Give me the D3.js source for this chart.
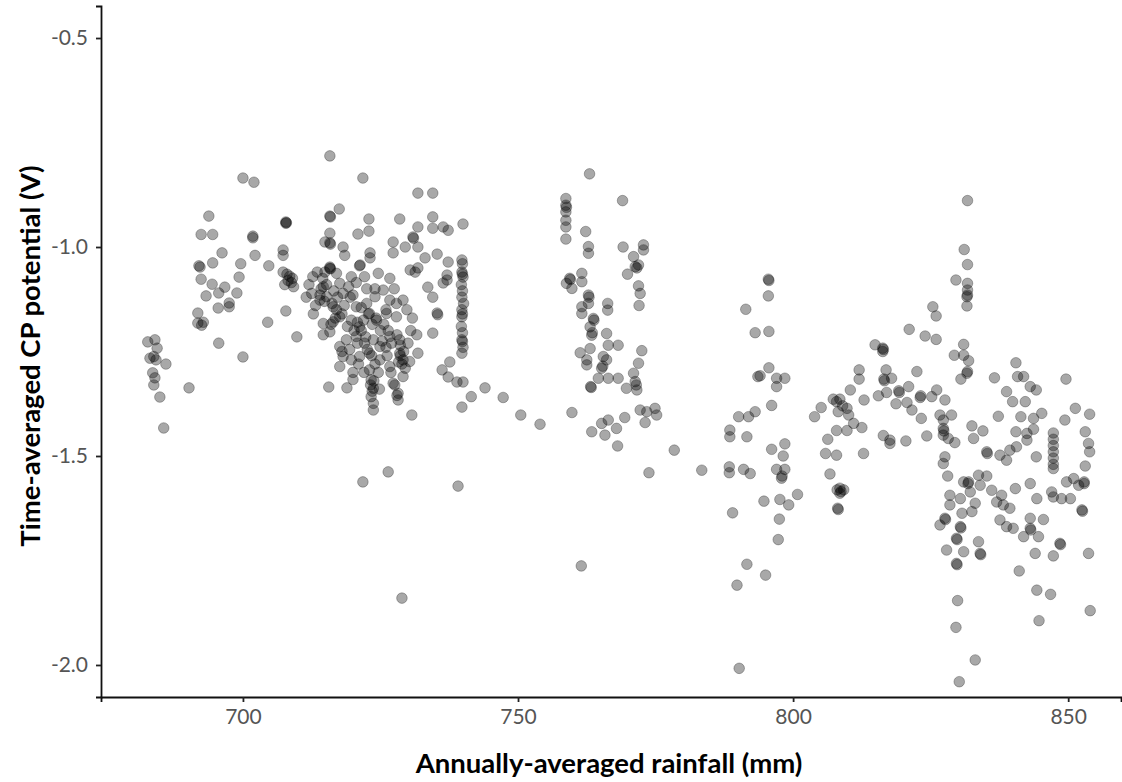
<!DOCTYPE html>
<html lang="en">
<head>
<meta charset="UTF-8">
<title>CP potential vs rainfall</title>
<script src="https://cdn.jsdelivr.net/npm/d3@7"></script>
<style>
  body { margin: 0; background: #fff; }
  text { font-family: Lato, "Open Sans", sans-serif; }
</style>
</head>
<body>
<svg id="chart"></svg>
<script>
const width = 1122, height = 782;

// [rainfall (mm), CP potential (V)], grouped by area
const west = [[682.7,-1.227],[684.0,-1.222],[684.4,-1.242],[683.1,-1.266],[684.2,-1.27],[683.8,-1.262],[686.0,-1.28],[683.6,-1.301],[684.0,-1.313],[683.8,-1.33],[684.9,-1.359],[685.6,-1.433],[690.2,-1.337],
  [700.0,-0.835],[702.0,-0.845],[693.8,-0.926],[692.4,-0.97],[694.5,-0.97],[701.8,-0.974],[701.8,-0.978],[696.2,-1.014],[702.2,-1.02],[692.0,-1.045],[692.2,-1.048],[694.5,-1.038],[699.6,-1.04],[704.7,-1.045],[692.4,-1.077],[694.4,-1.089],[696.7,-1.096],[699.3,-1.072],[695.6,-1.11],[698.9,-1.11],[693.3,-1.117],[697.5,-1.134],[697.5,-1.143],[695.5,-1.146],[691.8,-1.158],[691.8,-1.182],[692.5,-1.187],[692.8,-1.18],[704.5,-1.18],[695.6,-1.23],[700.0,-1.263],
  [707.8,-0.94],[707.9,-0.942],[707.8,-0.943],[707.3,-1.007],[707.3,-1.02],[707.3,-1.06],[708.0,-1.065],[708.5,-1.07],[709.0,-1.075],[708.2,-1.08],[707.6,-1.09],[709.2,-1.095],[708.8,-1.085],[707.8,-1.153],[709.8,-1.215]];

const central = [[715.8,-0.782],[721.8,-0.835],[731.8,-0.871],[734.5,-0.871],[717.5,-0.909],[715.8,-0.926],[715.9,-0.928],[722.9,-0.933],[728.5,-0.933],[734.5,-0.928],[736.4,-0.952],[737.3,-0.96],[734.5,-0.955],[740.0,-0.945],[731.8,-0.952],[715.8,-0.967],[720.9,-0.969],[722.9,-0.962],[730.9,-0.976],[731.0,-0.979],[715.8,-0.99],[715.9,-0.993],[714.9,-0.988],[718.2,-1.0],[718.5,-1.02],[723.1,-1.014],[723.1,-1.026],[727.3,-0.988],[727.3,-1.014],[729.5,-1.0],[731.8,-1.0],[733.1,-1.026],[735.3,-1.017],[739.8,-1.031],[739.8,-1.06],[740.0,-1.072],[739.9,-1.065],[737.3,-1.036],[737.1,-1.067],[721.3,-1.043],[730.4,-1.055],[731.3,-1.06],[731.8,-1.05],[715.8,-1.048],[715.9,-1.052],[714.9,-1.06],[733.6,-1.096],[734.5,-1.12],[735.3,-1.158],[735.4,-1.162],[739.8,-1.12],[739.8,-1.15],[739.8,-1.167],[739.9,-1.16],[737.1,-1.079],[736.4,-1.086],[731.6,-1.21],[734.5,-1.206],[739.8,-1.222],[739.9,-1.226],[739.8,-1.254],[737.6,-1.275],[736.2,-1.294],[737.3,-1.311],[738.9,-1.323],[740.0,-1.323],[739.8,-1.383],[731.8,-1.254],[730.7,-1.402],[715.6,-1.335],[718.9,-1.337],
  [739.9,-1.04],[739.7,-1.09],[739.9,-1.105],[740.1,-1.135],[739.7,-1.19],[739.9,-1.205],[740.0,-1.24],
  [712.7,-1.071],[714.6,-1.095],[715.8,-1.051],[717.0,-1.063],[717.6,-1.087],[719.7,-1.071],[721.2,-1.045],[722.1,-1.071],[724.6,-1.063],[726.7,-1.075],
  [712.5,-1.111],[714.0,-1.127],[715.2,-1.119],[716.4,-1.143],[718.2,-1.111],[720.0,-1.115],[720.6,-1.143],[722.5,-1.135],[724.0,-1.119],[725.5,-1.103],[726.7,-1.127],[727.9,-1.135],[729.1,-1.127],
  [714.6,-1.183],[716.4,-1.179],[717.6,-1.167],[719.7,-1.175],[721.2,-1.191],[723.0,-1.159],[724.3,-1.175],[726.1,-1.159],[727.9,-1.167],
  [714.6,-1.21],[715.8,-1.203],[717.6,-1.238],[718.8,-1.222],[720.6,-1.214],[722.1,-1.23],[723.7,-1.222],[724.9,-1.238],[726.7,-1.214],[728.5,-1.222],
  [717.6,-1.286],[718.2,-1.262],[719.7,-1.27],[721.2,-1.262],[723.0,-1.254],[724.9,-1.27],[726.7,-1.286],[728.5,-1.254],[729.1,-1.27],[730.3,-1.274],
  [720.0,-1.317],[723.0,-1.294],[723.3,-1.318],[723.7,-1.338],[727.3,-1.326],[728.2,-1.35],[729.1,-1.31],[723.3,-1.358],[723.7,-1.374],[728.2,-1.366],[723.7,-1.39],
  [714.2,-1.1],[714.8,-1.13],[720.8,-1.18],[721.5,-1.2],[728.6,-1.26],[728.9,-1.28],[723.2,-1.33],[723.5,-1.345],[728.0,-1.355],[719.5,-1.12],[716.0,-1.185],[726.0,-1.15],[722.5,-1.1],[725.0,-1.2],[718.0,-1.25],[712.0,-1.09],[713.5,-1.06],[711.5,-1.12],[726.0,-1.24],[720.0,-1.3],
  [716.2,-1.135],[717.0,-1.15],[718.0,-1.16],[716.8,-1.17],[718.4,-1.14],[721.5,-1.145],[722.8,-1.16],[724.2,-1.17],[723.5,-1.185],[721.9,-1.175],[728.0,-1.21],[728.6,-1.235],[729.2,-1.25],[728.3,-1.275],[729.5,-1.29],[723.4,-1.26],[724.0,-1.28],[724.6,-1.3],[723.8,-1.32],[724.8,-1.34],
  [714.5,-1.075],[715.2,-1.09],[716.5,-1.105],[717.2,-1.12],[714.0,-1.115],[719.0,-1.19],[720.2,-1.2],[720.8,-1.23],[719.4,-1.245],[725.6,-1.185],[726.4,-1.2],[727.0,-1.23],[726.2,-1.26],[725.3,-1.225],[722.3,-1.215],[722.6,-1.245],[721.0,-1.28],[722.0,-1.3],[726.9,-1.3],[727.6,-1.33],
  [730.0,-1.23],[730.5,-1.2],[713.2,-1.14],[712.8,-1.16],[719.2,-1.095],[720.6,-1.085],[724.0,-1.1],[727.5,-1.1],[729.8,-1.15],[730.8,-1.17],
  [721.8,-1.562],[726.4,-1.538],[739.1,-1.572],[728.9,-1.84],
  [741.5,-1.358],[744.0,-1.337],[747.3,-1.36],[750.5,-1.402],[754.0,-1.424]];

const middle = [[763.0,-0.825],[758.7,-0.884],[758.7,-0.9],[758.7,-0.916],[758.7,-0.936],[758.7,-0.952],[758.7,-0.981],[758.8,-0.905],[769.0,-0.889],[762.3,-0.963],[762.8,-0.999],[762.8,-1.015],[769.1,-1.0],[772.8,-0.995],[772.8,-1.007],[771.0,-1.023],[771.3,-1.047],[771.9,-1.043],[771.6,-1.05],[769.9,-1.065],[759.4,-1.075],[759.5,-1.078],[758.8,-1.087],[759.8,-1.099],[761.6,-1.063],[761.6,-1.083],[771.9,-1.093],[772.2,-1.111],[772.0,-1.14],[762.8,-1.115],[762.9,-1.12],[762.8,-1.135],[761.6,-1.143],[761.6,-1.159],[766.3,-1.135],[766.3,-1.151],[763.7,-1.171],[763.8,-1.175],[763.1,-1.191],[763.4,-1.211],[763.5,-1.205],[766.1,-1.207],[768.2,-1.235],[766.4,-1.235],[772.5,-1.248],[761.3,-1.253],[763.1,-1.243],[762.5,-1.27],[762.5,-1.282],[765.5,-1.262],[766.1,-1.27],[765.2,-1.29],[765.4,-1.285],[771.9,-1.278],[771.0,-1.302],[771.3,-1.322],[771.6,-1.342],[771.5,-1.33],[769.7,-1.338],[764.6,-1.314],[766.4,-1.314],[768.2,-1.314],[763.2,-1.334],[763.3,-1.336],[759.8,-1.396],[772.2,-1.39],[773.4,-1.394],[774.9,-1.386],[775.2,-1.402],[773.1,-1.42],[769.4,-1.408],[765.2,-1.422],[766.4,-1.414],[767.9,-1.434],[765.8,-1.45],[763.4,-1.442],[768.1,-1.476],[778.4,-1.486],[773.8,-1.54],[761.5,-1.763],
  [783.4,-1.534],[791.4,-1.149],[793.1,-1.205],[793.6,-1.31],[793.1,-1.394],[791.9,-1.406],[790.1,-1.406],[788.5,-1.438],[788.5,-1.454],[791.6,-1.454],[788.4,-1.526],[788.4,-1.54],[791.0,-1.532],[792.2,-1.542],[789.0,-1.636],[791.6,-1.759],[789.8,-1.809],[790.2,-2.008],
  [795.5,-1.077],[795.6,-1.08],[795.5,-1.117],[795.6,-1.202],[795.6,-1.289],[794.0,-1.308],[797.0,-1.314],[798.5,-1.314],[797.0,-1.334],[796.1,-1.379],[796.1,-1.484],[798.5,-1.471],[798.2,-1.5],[797.0,-1.532],[798.5,-1.532],[797.9,-1.553],[798.0,-1.548],[800.8,-1.592],[794.7,-1.608],[797.6,-1.604],[799.2,-1.617],[797.5,-1.651],[797.3,-1.7],[795.0,-1.785]];

const eastNear = [[821.1,-1.197],[824.0,-1.213],[814.9,-1.234],[816.3,-1.242],[816.4,-1.245],[816.3,-1.25],[812.0,-1.294],[812.0,-1.316],[816.9,-1.294],[816.5,-1.316],[816.6,-1.32],[817.9,-1.314],[822.5,-1.298],[810.4,-1.342],[821.0,-1.334],[819.2,-1.344],[819.3,-1.348],[823.1,-1.36],[823.2,-1.356],[815.5,-1.356],[817.0,-1.348],[807.3,-1.364],[808.5,-1.364],[807.9,-1.37],[812.9,-1.366],[818.7,-1.375],[820.7,-1.372],[821.6,-1.39],[805.1,-1.384],[808.2,-1.394],[809.8,-1.386],[810.1,-1.402],[809.0,-1.38],[803.9,-1.406],[823.3,-1.41],[807.9,-1.439],[809.8,-1.439],[811.0,-1.422],[812.5,-1.432],[806.3,-1.46],[816.4,-1.451],[817.6,-1.47],[817.6,-1.462],[820.5,-1.464],[824.3,-1.452],[805.9,-1.494],[807.9,-1.498],[812.8,-1.494],[806.7,-1.543],[808.5,-1.577],[808.5,-1.589],[808.0,-1.581],[809.2,-1.581],[808.7,-1.585],[808.1,-1.625],[808.2,-1.628]];

const eastFar = [[831.7,-0.889],[831.1,-1.006],[831.7,-1.042],[829.6,-1.079],[831.7,-1.087],[831.7,-1.103],[831.6,-1.119],[831.7,-1.115],[831.6,-1.141],[825.4,-1.143],[826.0,-1.165],[826.0,-1.221],[831.0,-1.233],[829.3,-1.259],[831.0,-1.259],[831.9,-1.272],[831.6,-1.302],[831.7,-1.298],[830.5,-1.316],[840.5,-1.277],[836.6,-1.313],[840.8,-1.31],[841.9,-1.31],[843.1,-1.334],[844.2,-1.342],[849.6,-1.316],[838.8,-1.346],[839.9,-1.37],[842.2,-1.37],[826.1,-1.342],[827.6,-1.366],[825.2,-1.358],[837.3,-1.405],[841.4,-1.406],[843.7,-1.41],[845.2,-1.398],[851.3,-1.386],[853.9,-1.4],[849.4,-1.414],[826.7,-1.402],[827.3,-1.414],[828.8,-1.402],[827.3,-1.434],[827.4,-1.44],[827.3,-1.45],[828.2,-1.458],[829.4,-1.468],[832.5,-1.428],[834.5,-1.44],[832.8,-1.458],[840.5,-1.442],[842.5,-1.446],[842.5,-1.462],[843.7,-1.436],[853.1,-1.442],[853.7,-1.47],[853.9,-1.49],[835.2,-1.49],[835.3,-1.494],[837.6,-1.498],[839.4,-1.486],[840.6,-1.478],[844.2,-1.502],[827.6,-1.502],
  [847.3,-1.445],[847.3,-1.46],[847.3,-1.475],[847.3,-1.49],[847.3,-1.505],[847.3,-1.52],[847.3,-1.53],
  [838.8,-1.51],[853.1,-1.524],[852.9,-1.562],[852.9,-1.566],[852.5,-1.629],[852.6,-1.632],[827.3,-1.518],[828.1,-1.548],[831.0,-1.562],[831.9,-1.562],[831.8,-1.566],[833.7,-1.546],[835.2,-1.548],[834.0,-1.57],[832.2,-1.586],[836.1,-1.582],[837.0,-1.61],[838.2,-1.617],[837.9,-1.594],[839.4,-1.625],[840.4,-1.578],[843.1,-1.566],[844.3,-1.602],[847.0,-1.586],[847.3,-1.598],[848.8,-1.602],[850.4,-1.602],[849.7,-1.562],[851.0,-1.554],[851.9,-1.57],[828.5,-1.594],[830.4,-1.602],[828.5,-1.617],[833.1,-1.613],[832.5,-1.633],[830.7,-1.637],[827.6,-1.649],[827.7,-1.652],[826.7,-1.665],[830.4,-1.669],[830.5,-1.672],[829.7,-1.697],[829.8,-1.7],[837.6,-1.653],[838.8,-1.669],[840.0,-1.673],[841.9,-1.693],[843.1,-1.649],[843.1,-1.673],[843.2,-1.677],[844.6,-1.693],[845.5,-1.652],[848.5,-1.709],[848.6,-1.712],[853.7,-1.733],[833.7,-1.705],[834.0,-1.733],[834.1,-1.736],[831.0,-1.729],[829.7,-1.757],[829.8,-1.76],[827.9,-1.725],[844.0,-1.733],[847.3,-1.739],[841.1,-1.775],[844.3,-1.821],[846.8,-1.831],[844.7,-1.894],[854.0,-1.87],[829.9,-1.846],[829.6,-1.91],[833.1,-1.988],[830.2,-2.04]];

const xTicks = [700, 750, 800, 850];
const yTicks = [-0.5, -1.0, -1.5, -2.0];
const xTitle = "Annually-averaged rainfall (mm)";
const yTitle = "Time-averaged CP potential (V)";

const points = [].concat(west, central, middle, eastNear, eastFar);

const svg = d3.select("#chart")
    .attr("width", width)
    .attr("height", height);

const x = d3.scaleLinear().domain([674.2, 859.6]).range([101, 1121]);
const y = d3.scaleLinear().domain([-0.4234, -2.0766]).range([6, 697]);

// points
svg.append("g")
  .selectAll("circle")
  .data(points)
  .join("circle")
    .attr("cx", d => x(d[0]))
    .attr("cy", d => y(d[1]))
    .attr("r", 5.3)
    .attr("fill", "#000")
    .attr("fill-opacity", 0.34)
    .attr("stroke", "#000")
    .attr("stroke-opacity", 0.28)
    .attr("stroke-width", 1);

// axes
const xAxis = svg.append("g")
    .attr("transform", "translate(0,697)")
    .call(d3.axisBottom(x).tickValues(xTicks).tickSizeOuter(0).tickSize(5).tickPadding(7));

const yAxis = svg.append("g")
    .attr("transform", "translate(101,0)")
    .call(d3.axisLeft(y).tickValues(yTicks).tickFormat(d => d.toFixed(1)).tickSizeOuter(0).tickSize(5).tickPadding(8));

[xAxis, yAxis].forEach(g => {
  g.select(".domain").attr("stroke", "#111").attr("stroke-width", 1.8);
  g.selectAll(".tick line").attr("stroke", "#222").attr("stroke-width", 1.8);
  g.selectAll(".tick text")
    .attr("fill", "#555")
    .style("font-family", "Lato, 'Open Sans', sans-serif")
    .style("font-size", "21px");
});

// titles
svg.append("text")
    .attr("x", 609)
    .attr("y", 773)
    .attr("text-anchor", "middle")
    .style("font-size", "27.5px")
    .style("font-weight", "bold")
    .attr("fill", "#000")
    .text(xTitle);

svg.append("text")
    .attr("transform", "translate(40,356) rotate(-90)")
    .attr("text-anchor", "middle")
    .style("font-size", "27.5px")
    .style("font-weight", "bold")
    .attr("fill", "#000")
    .text(yTitle);
</script>
</body>
</html>
